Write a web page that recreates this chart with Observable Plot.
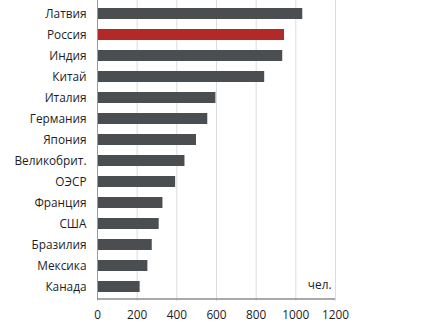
<!DOCTYPE html>
<html>
<head>
<meta charset="utf-8">
<script src="https://cdn.jsdelivr.net/npm/d3@7"></script>
<script src="https://cdn.jsdelivr.net/npm/@observablehq/plot@0.6"></script>
<style>
  html, body { margin: 0; padding: 0; background: #fff; }
  #chart svg { display: block; }
</style>
</head>
<body>
<div id="chart"></div>
<script>
const countries = ["Латвия", "Россия", "Индия", "Китай", "Италия", "Германия", "Япония", "Великобрит.", "ОЭСР", "Франция", "США", "Бразилия", "Мексика", "Канада"];
const values = [1035, 943, 934, 843, 597, 556, 499, 441, 394, 330, 311, 276, 254, 215];
const highlight = "Россия";
const xTicks = [0, 200, 400, 600, 800, 1000, 1200];
const unitLabel = "чел.";

const data = countries.map((c, i) => ({country: c, value: values[i]}));

const chart = Plot.plot({
  width: 436,
  height: 333,
  marginLeft: 97,
  marginRight: 101,
  marginTop: 0,
  marginBottom: 34,
  style: {fontFamily: "'Open Sans', 'DejaVu Sans', sans-serif", fontSize: "11.8px", fontWeight: 500, color: "#1d1d28", background: "#fff"},
  x: {domain: [0, 1200], ticks: xTicks},
  y: {domain: countries, paddingInner: 0.5, paddingOuter: 0.18},
  marks: [
    Plot.gridX(xTicks, {stroke: "#dcdcdc", strokeOpacity: 1}),
    Plot.barX(data, {x: "value", y: "country", fill: d => d.country === highlight ? "#b22a27" : "#4b4e51"}),
    Plot.ruleX([0], {stroke: "#9a9a9a"}),
    Plot.axisX({ticks: xTicks, tickSize: 2, tickPadding: 9, stroke: "#dcdcdc", label: null, tickFormat: d => String(d), fontSize: 11.8}),
    Plot.axisY({tickSize: 0, tickPadding: 11, label: null, fontSize: 11.8}),
    Plot.text([unitLabel], {frameAnchor: "bottom-right", dx: -4, dy: -11, fontSize: 11.8, fill: "#1d1d28", textAnchor: "end"})
  ]
});
// bottom axis line, placed with the chart's own scales
const xs = chart.scale("x");
const ys = chart.scale("y");
const yBottom = Math.max(...ys.range);
d3.select(chart).append("line")
  .attr("x1", xs.apply(xTicks[0]))
  .attr("x2", xs.apply(xTicks[xTicks.length - 1]))
  .attr("y1", yBottom)
  .attr("y2", yBottom)
  .style("stroke", "#8c8c8c")
  .style("stroke-width", "1.5px");
document.getElementById("chart").appendChild(chart);
</script>
</body>
</html>
